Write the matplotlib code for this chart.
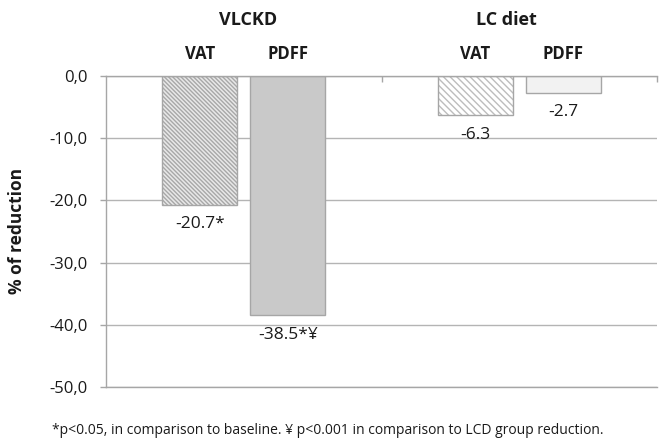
import matplotlib
matplotlib.use('Agg')
import numpy as np
import matplotlib.pyplot as plt

# data
groups = ['VLCKD', 'LC diet']
measures = ['VAT', 'PDFF']
vat = [-20.7, -6.3]
pdff = [-38.5, -2.7]
vat_labels = ['-20.7*', '-6.3']
pdff_labels = ['-38.5*\u00a5', '-2.7']
yticks = [0, -10, -20, -30, -40, -50]
ytick_labels = ['0,0', '-10,0', '-20,0', '-30,0', '-40,0', '-50,0']
ylabel = '% of reduction'
footnote = ('*p<0.05, in comparison to baseline. \u00a5 p<0.001 in comparison '
            'to LCD group reduction.')

plt.rcParams['font.family'] = ['Open Sans', 'DejaVu Sans']
plt.rcParams['hatch.linewidth'] = 1.0

fig = plt.figure(figsize=(6.61, 4.44), dpi=100)
ax = fig.add_axes([106 / 661, 57 / 444, 551 / 661, 311 / 444])

x = np.arange(len(groups))
off, w = 0.16, 0.272
frame = '#a6a6a6'

# hatched / filled layer, then outline layer
vat_bars = ax.bar(x - off, vat, w, color=['#e8e8e8', 'white'],
                  edgecolor=['#a8a8a8', '#bdbdbd'], linewidth=0)
for p, h in zip(vat_bars, ['\\' * 8, '\\' * 5]):
    p.set_hatch(h)
pdff_bars = ax.bar(x + off, pdff, w, color=['#c9c9c9', '#f2f2f2'], linewidth=0)
ax.bar(x - off, vat, w, fill=False, edgecolor=frame, linewidth=1)
ax.bar(x + off, pdff, w, fill=False, edgecolor=frame, linewidth=1)

for xs, vals, labs in [(x - off, vat, vat_labels), (x + off, pdff, pdff_labels)]:
    for xi, v, lab in zip(xs, vals, labs):
        ax.annotate(lab, (xi, v), xytext=(0, -14), textcoords='offset points',
                    ha='center', va='center', fontsize=12.5, color='#1a1a1a')

# header labels above the plot
tr = ax.get_xaxis_transform()
for xi, g, dx in zip(x, groups, [0.015, -0.047]):
    ax.text(xi + dx, 1.18, g, transform=tr, ha='center', va='center',
            fontsize=13, fontweight='bold', color='#1a1a1a')
for xi in x:
    for m, d in zip(measures, [-off, off]):
        ax.text(xi + d, 1.071, m, transform=tr, ha='center', va='center',
                fontsize=12, fontweight='bold', color='#1a1a1a')

ax.set_xlim(-0.5, 1.5)
ax.set_ylim(-50, 0)
ax.set_yticks(yticks)
ax.set_yticklabels(ytick_labels)
ax.tick_params(axis='y', length=4.5, width=1, color=frame, pad=9,
               labelsize=12, labelcolor='#1a1a1a')
ax.xaxis.tick_top()
ax.set_xticks([0.5, 1.5])
ax.set_xticklabels([])
ax.tick_params(axis='x', direction='in', length=4.5, width=1, color=frame)

ax.grid(axis='y', color='#b4b4b4', linewidth=1)
ax.set_axisbelow(True)
for s in ['top', 'left', 'bottom']:
    ax.spines[s].set_color(frame)
    ax.spines[s].set_linewidth(1)
ax.spines['right'].set_visible(False)

fig.text(17 / 661, 1 - 231 / 444, ylabel, rotation=90, ha='center', va='center',
         fontsize=12.5, fontweight='bold', color='#1a1a1a')
fig.text(327.5 / 661, 14 / 444, footnote, ha='center', va='center',
         fontsize=10, color='#1a1a1a')

fig.savefig('out.png', dpi=100)
